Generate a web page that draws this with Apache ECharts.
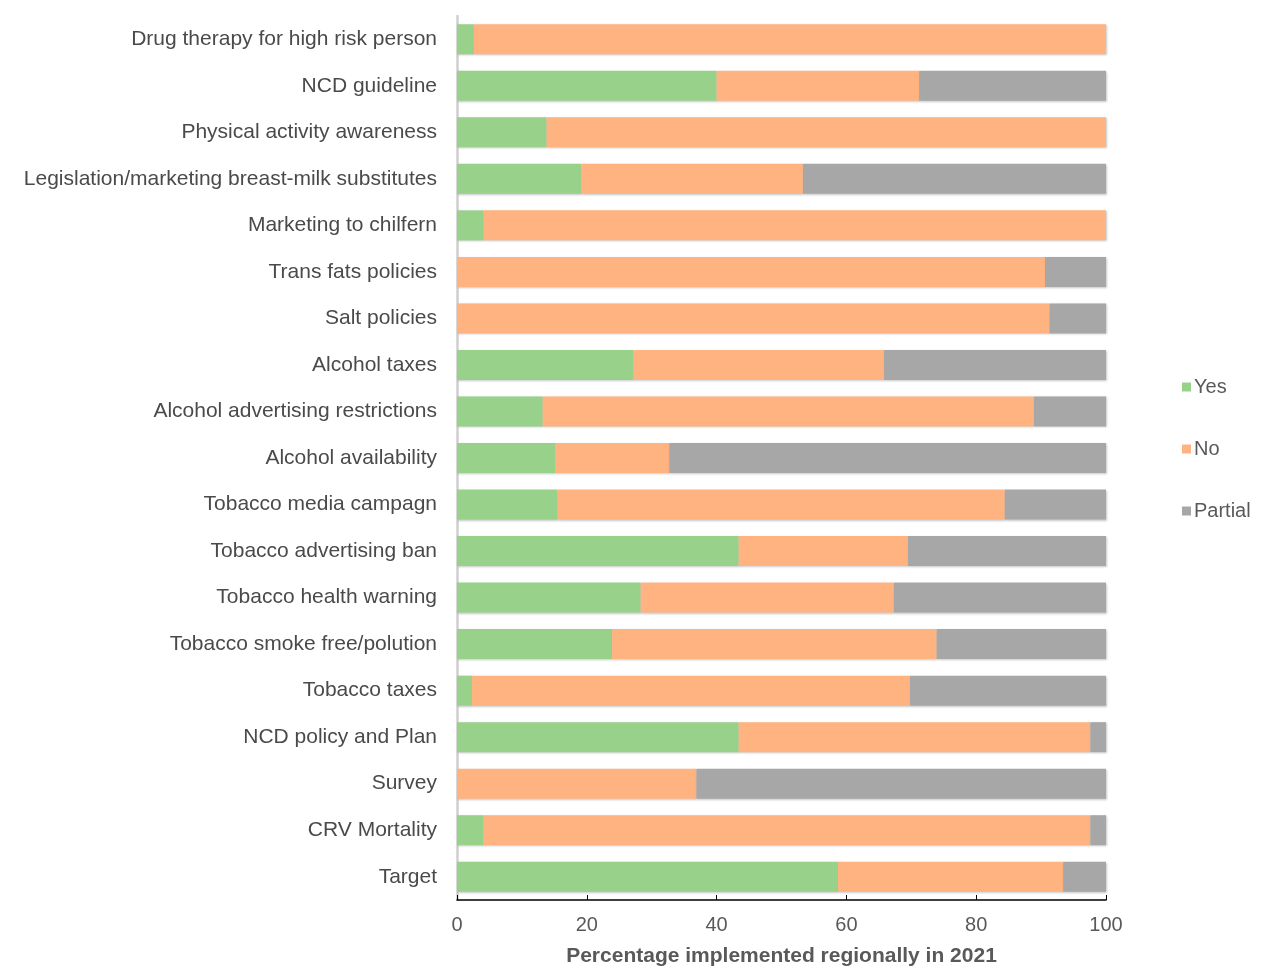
<!DOCTYPE html>
<html><head><meta charset="utf-8">
<script src="https://cdn.jsdelivr.net/npm/echarts@6/dist/echarts.min.js"></script>
<style>html,body{margin:0;padding:0;background:#fff}#c{width:1261px;height:968px}</style>
</head><body><div id="c"></div>
<script>
const categories = ["Drug therapy for high risk person","NCD guideline","Physical activity awareness","Legislation/marketing breast-milk substitutes","Marketing to chilfern","Trans fats policies","Salt policies","Alcohol taxes","Alcohol advertising restrictions","Alcohol availability","Tobacco media campagn","Tobacco advertising ban","Tobacco health warning","Tobacco smoke free/polution","Tobacco taxes","NCD policy and Plan","Survey","CRV Mortality","Target"];
const yesVals =     [2.6, 40.0, 13.8, 19.1, 4.1, 0, 0, 27.2, 13.2, 15.1, 15.5, 43.4, 28.3, 23.9, 2.3, 43.4, 0, 4.1, 58.7];
const noVals =      [97.4, 31.2, 86.2, 34.2, 95.9, 90.6, 91.3, 38.6, 75.7, 17.6, 68.9, 26.1, 39.0, 50.0, 67.5, 54.2, 36.9, 93.5, 34.7];
const partialVals = [0, 28.8, 0, 46.7, 0, 9.4, 8.7, 34.2, 11.1, 67.3, 15.6, 30.5, 32.7, 26.1, 30.2, 2.4, 63.1, 2.4, 6.6];
const xTicks = [0, 20, 40, 60, 80, 100];
const seriesNames = ["Yes", "No", "Partial"];
const colors = ["#98d28a", "#ffb381", "#a7a7a7"];

const chart = echarts.init(document.getElementById('c'), null, {renderer: 'canvas'});
const font = '"Liberation Sans", Arial, sans-serif';
const shadow = {shadowColor: 'rgba(0,0,0,0.22)', shadowBlur: 2, shadowOffsetX: 1, shadowOffsetY: 1};
const mk = (name, data, color) => ({
  name, type: 'bar', stack: 'total', data, barWidth: 30,
  itemStyle: Object.assign({color}, shadow)
});
chart.setOption({
  animation: false,
  color: colors,
  textStyle: {fontFamily: font},
  grid: {left: 457, right: 155, top: 16, bottom: 68, containLabel: false, outerBoundsMode: 'none'},
  legend: {
    orient: 'vertical', left: 1177, top: 372, itemGap: 42,
    itemWidth: 9, itemHeight: 9, icon: 'rect',
    textStyle: {fontFamily: font, fontSize: 20, color: '#595959', padding: [0,0,0,-2]},
    data: seriesNames
  },
  xAxis: {
    type: 'value', min: 0, max: 100, interval: 20,
    axisLine: {show: true, lineStyle: {color: '#000', width: 1.5}},
    axisTick: {show: true, inside: true, length: 5, lineStyle: {color: '#000'}},
    splitLine: {show: false},
    axisLabel: {fontFamily: font, fontSize: 20, color: '#595959', margin: 15,
      formatter: v => xTicks.includes(v) ? String(v) : ''},
    name: 'Percentage implemented regionally in 2021',
    nameLocation: 'middle', nameGap: 46,
    nameTextStyle: {fontFamily: font, fontSize: 21, fontWeight: 'bold', color: '#595959'}
  },
  yAxis: {
    type: 'category', data: categories, inverse: true,
    axisLine: {show: true, lineStyle: {color: '#cfcfcf', width: 2.5}},
    axisTick: {show: false},
    axisLabel: {fontFamily: font, fontSize: 21, color: '#4a4a4a', margin: 20}
  },
  series: [
    mk(seriesNames[0], yesVals, colors[0]),
    mk(seriesNames[1], noVals, colors[1]),
    mk(seriesNames[2], partialVals, colors[2])
  ]
});
</script></body></html>
